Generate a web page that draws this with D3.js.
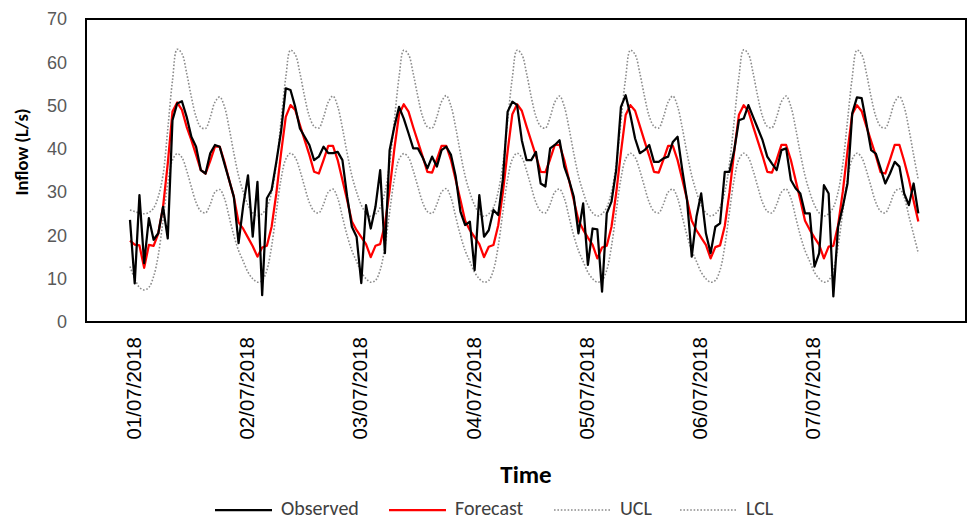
<!DOCTYPE html>
<html>
<head>
<meta charset="utf-8">
<script src="https://cdn.jsdelivr.net/npm/d3@7"></script>
<style>
  html, body { margin: 0; padding: 0; background: #fff; }
  svg { display: block; font-family: Calibri, Carlito, 'Open Sans', sans-serif; }
</style>
</head>
<body>
<svg width="968" height="520"></svg>
<script>
(function (d3) {
  'use strict';

  // hourly readings, first one at 01/07/2018 00:00
  const dayLabels = ['01/07/2018', '02/07/2018', '03/07/2018', '04/07/2018',
                     '05/07/2018', '06/07/2018', '07/07/2018'];

  const observed = [
    23.6, 8.9, 29.3, 13.6, 24.0, 19.0, 20.5, 26.6, 19.3, 46.6, 50.5, 51.0, 47.4, 42.8, 40.5, 35.1, 34.3, 39.0, 40.9, 40.5, 36.6, 32.8, 28.9, 18.2,
    27.0, 33.9, 19.7, 32.4, 6.2, 28.6, 30.5, 37.0, 44.0, 54.0, 53.6, 49.7, 44.7, 42.8, 40.9, 37.4, 38.2, 40.5, 39.0, 39.0, 39.3, 37.4, 29.0, 22.0,
    19.7, 9.0, 27.0, 21.6, 26.6, 35.1, 15.9, 39.7, 45.1, 49.7, 47.0, 43.6, 40.1, 40.1, 38.0, 35.5, 38.2, 35.9, 39.7, 40.5, 38.6, 33.6, 25.5, 22.4,
    23.2, 12.0, 29.3, 19.7, 21.2, 25.9, 24.7, 33.0, 48.6, 50.9, 50.1, 42.0, 37.4, 37.4, 39.3, 32.0, 31.3, 40.1, 40.9, 42.0, 35.9, 32.8, 29.0, 20.5,
    27.4, 13.2, 21.6, 21.4, 7.0, 25.1, 27.8, 35.1, 49.7, 52.4, 47.8, 42.4, 39.0, 39.7, 40.9, 37.0, 37.0, 37.8, 38.2, 41.6, 42.8, 35.1, 28.2, 15.1,
    24.3, 29.7, 20.5, 15.9, 22.0, 22.8, 34.7, 34.7, 39.7, 46.6, 47.0, 50.1, 47.4, 44.7, 42.0, 38.2, 36.6, 35.1, 39.7, 40.1, 32.8, 30.9, 29.7, 25.1,
    25.1, 12.8, 15.9, 31.6, 29.7, 5.9, 22.0, 26.6, 32.0, 48.2, 51.9, 51.7, 45.9, 39.7, 38.9, 35.5, 32.0, 34.3, 37.0, 35.9, 29.7, 27.0, 32.0, 25.1
  ];

  const forecast = [
    18.8, 17.9, 17.7, 12.5, 17.8, 17.6, 20.5, 26.6, 36.6, 48.6, 50.7, 49.0, 45.1, 42.0, 38.6, 35.1, 34.3, 37.2, 40.5, 40.5, 37.0, 32.8, 28.9, 23.0,
    21.5, 19.5, 17.5, 15.1, 17.2, 17.6, 22.0, 29.7, 39.0, 47.4, 50.1, 49.0, 45.5, 42.0, 38.6, 34.7, 34.3, 37.4, 40.7, 40.7, 37.4, 32.8, 28.2, 23.2,
    21.2, 19.6, 18.0, 15.0, 17.6, 18.0, 22.5, 30.5, 40.0, 48.0, 50.3, 48.6, 45.0, 41.6, 38.2, 34.7, 34.5, 37.5, 40.7, 40.7, 37.4, 32.8, 28.2, 23.4,
    21.2, 19.6, 18.0, 15.0, 17.4, 17.8, 22.3, 30.0, 39.5, 48.0, 50.3, 48.8, 45.2, 41.8, 38.4, 34.7, 34.6, 37.6, 40.9, 40.9, 37.4, 32.8, 28.2, 23.5,
    21.3, 19.5, 17.8, 14.7, 17.2, 17.6, 22.0, 29.8, 39.2, 47.8, 50.1, 48.8, 45.3, 41.8, 38.4, 34.7, 34.5, 37.5, 40.7, 40.7, 37.4, 32.9, 28.3, 23.4,
    21.2, 19.5, 17.8, 14.7, 17.3, 17.7, 22.2, 30.0, 39.4, 47.9, 50.1, 48.7, 45.2, 41.8, 38.4, 34.7, 34.5, 37.5, 40.9, 40.9, 37.4, 32.8, 28.2, 23.4,
    21.3, 19.5, 17.8, 14.7, 17.4, 17.6, 22.3, 30.1, 39.5, 48.0, 50.1, 48.7, 45.2, 41.8, 38.4, 34.6, 34.3, 37.5, 40.9, 40.9, 37.2, 33.0, 28.0, 23.2
  ];

  const ucl = [
    25.9, 25.5, 25.2, 25.0, 25.3, 26.3, 29.0, 34.0, 44.5, 55.8, 63.0, 62.0, 57.5, 52.0, 47.4, 45.0, 44.7, 47.3, 50.8, 52.0, 49.8, 44.8, 39.0, 33.8,
    30.0, 27.0, 25.2, 24.5, 25.0, 26.5, 30.0, 36.5, 46.5, 56.5, 62.8, 61.8, 57.5, 52.0, 47.5, 45.2, 44.8, 47.3, 50.8, 52.2, 49.8, 44.8, 39.0, 33.8,
    30.0, 27.0, 25.2, 24.4, 24.9, 26.4, 30.0, 36.6, 46.6, 56.6, 62.8, 61.8, 57.4, 52.0, 47.4, 45.1, 44.8, 47.4, 50.9, 52.3, 49.9, 44.9, 39.0, 33.7,
    29.9, 27.0, 25.1, 24.4, 25.0, 26.5, 30.1, 36.5, 46.5, 56.5, 62.8, 61.8, 57.5, 52.0, 47.5, 45.2, 44.8, 47.3, 50.8, 52.2, 49.8, 44.8, 39.0, 33.8,
    30.0, 27.0, 25.2, 24.5, 25.0, 26.5, 30.0, 36.5, 46.4, 56.4, 62.8, 61.8, 57.5, 52.1, 47.5, 45.2, 44.8, 47.3, 50.8, 52.2, 49.8, 44.8, 39.0, 33.8,
    30.0, 27.0, 25.2, 24.5, 25.0, 26.5, 30.0, 36.6, 46.6, 56.6, 62.9, 61.9, 57.5, 52.0, 47.5, 45.2, 44.9, 47.4, 50.9, 52.2, 49.8, 44.8, 39.0, 33.8,
    30.0, 27.0, 25.2, 24.5, 25.0, 26.5, 30.0, 36.5, 46.5, 56.5, 62.8, 61.8, 57.5, 52.0, 47.5, 45.2, 44.8, 47.3, 50.8, 52.1, 49.7, 44.6, 38.6, 32.8
  ];

  const lcl = [
    12.8, 10.0, 8.0, 7.4, 8.0, 10.5, 15.5, 23.5, 32.0, 37.4, 38.9, 38.0, 35.0, 31.2, 27.6, 25.6, 25.2, 27.2, 30.0, 30.6, 28.6, 24.3, 20.0, 16.5,
    14.0, 11.5, 10.0, 9.2, 9.6, 12.0, 17.5, 25.5, 33.0, 37.6, 39.0, 38.0, 35.0, 31.2, 27.6, 25.6, 25.2, 27.2, 30.0, 30.7, 28.6, 24.3, 20.0, 16.5,
    14.0, 11.5, 10.0, 9.2, 9.6, 12.0, 17.4, 25.4, 33.0, 37.6, 38.9, 38.0, 35.0, 31.2, 27.6, 25.5, 25.1, 27.2, 30.0, 30.8, 28.7, 24.3, 20.0, 16.5,
    14.0, 11.5, 10.0, 9.2, 9.6, 12.0, 17.5, 25.5, 33.0, 37.6, 39.0, 38.0, 35.0, 31.2, 27.6, 25.6, 25.2, 27.2, 30.0, 30.7, 28.6, 24.3, 20.0, 16.5,
    14.0, 11.5, 10.0, 9.2, 9.6, 12.0, 17.5, 25.5, 33.1, 37.7, 39.0, 38.0, 35.0, 31.2, 27.6, 25.6, 25.2, 27.2, 30.0, 30.7, 28.6, 24.3, 20.0, 16.5,
    14.0, 11.5, 10.0, 9.2, 9.6, 12.0, 17.5, 25.5, 33.0, 37.6, 39.0, 38.0, 35.0, 31.2, 27.6, 25.6, 25.2, 27.2, 30.0, 30.7, 28.6, 24.3, 20.0, 16.5,
    14.0, 11.5, 10.0, 9.2, 9.6, 12.0, 17.5, 25.5, 33.0, 37.6, 39.0, 38.0, 35.0, 31.2, 27.6, 25.6, 25.2, 27.2, 30.0, 30.8, 28.8, 24.5, 20.2, 15.9
  ];

  const yTicks = [0, 10, 20, 30, 40, 50, 60, 70];

  const svg = d3.select('svg');
  const plot = { left: 86, top: 19, right: 966, bottom: 322 };

  const parseDay = d3.utcParse('%d/%m/%Y');
  const dayTicks = dayLabels.map(parseDay);
  const hour = 3600 * 1000;
  const t0 = +dayTicks[0];
  const timeAt = i => new Date(t0 + i * hour);

  // the time axis runs a bit before the first and after the last reading
  const xScale = d3.scaleUtc()
    .domain([new Date(t0 - 9.32 * hour), new Date(t0 + 177.1 * hour)])
    .range([plot.left, plot.right]);

  const yScale = d3.scaleLinear()
    .domain([0, 70])
    .range([plot.bottom, plot.top]);

  const toPoints = values => values.map((v, i) => ({ t: timeAt(i), v }));

  const straight = d3.line()
    .x(d => xScale(d.t))
    .y(d => yScale(d.v));

  const smooth = d3.line()
    .x(d => xScale(d.t))
    .y(d => yScale(d.v))
    .curve(d3.curveCatmullRom.alpha(0.5));

  const series = [
    { name: 'Observed', values: observed, color: '#000000', width: 2.25, dash: null, gen: straight },
    { name: 'Forecast', values: forecast, color: '#ff0000', width: 2.25, dash: null, gen: straight },
    { name: 'UCL', values: ucl, color: '#8c8c8c', width: 1.6, dash: '1.6 1.8', gen: smooth },
    { name: 'LCL', values: lcl, color: '#8c8c8c', width: 1.6, dash: '1.6 1.8', gen: smooth }
  ];

  // y axis
  const yAxisG = svg.append('g')
    .attr('transform', `translate(${plot.left},0)`)
    .call(d3.axisLeft(yScale).tickValues(yTicks).tickSize(0).tickPadding(19));
  yAxisG.select('.domain').remove();
  yAxisG.selectAll('text')
    .attr('fill', '#595959')
    .style('font-size', '18px');

  // x axis, labels turned upright
  const xAxisG = svg.append('g')
    .attr('transform', `translate(0,${plot.bottom})`)
    .call(d3.axisBottom(xScale).tickValues(dayTicks)
      .tickFormat((d, i) => dayLabels[i]).tickSize(0));
  xAxisG.select('.domain').remove();
  xAxisG.selectAll('text')
    .attr('transform', 'rotate(-90)')
    .attr('text-anchor', 'end')
    .attr('x', -15)
    .attr('y', 3)
    .attr('dy', '0.35em')
    .attr('fill', '#000')
    .style('font-size', '20.5px');

  // lines, bands first
  svg.append('g')
    .selectAll('path')
    .data(series.slice().reverse())
    .enter().append('path')
      .attr('d', d => d.gen(toPoints(d.values)))
      .attr('fill', 'none')
      .attr('stroke', d => d.color)
      .attr('stroke-width', d => d.width)
      .attr('stroke-dasharray', d => d.dash)
      .attr('stroke-linejoin', 'round');

  // plot frame
  svg.append('rect')
    .attr('x', plot.left)
    .attr('y', plot.top)
    .attr('width', plot.right - plot.left)
    .attr('height', plot.bottom - plot.top)
    .attr('fill', 'none')
    .attr('stroke', '#000')
    .attr('stroke-width', 2);

  // axis titles
  svg.append('text')
    .attr('transform', 'translate(22,152) rotate(-90)')
    .attr('text-anchor', 'middle')
    .attr('dy', '0.35em')
    .style('font-size', '18.5px')
    .style('font-weight', 'bold')
    .text('Inflow (L/s)');

  svg.append('text')
    .attr('x', (plot.left + plot.right) / 2)
    .attr('y', 483)
    .attr('text-anchor', 'middle')
    .style('font-size', '25px')
    .style('font-weight', 'bold')
    .text('Time');

  // legend
  const legendX = [215, 389, 554, 680];
  const legendY = 510;
  const item = svg.append('g')
    .selectAll('g')
    .data(series)
    .enter().append('g')
      .attr('transform', (d, i) => `translate(${legendX[i]},${legendY})`);
  item.append('line')
    .attr('x1', 0).attr('x2', 57)
    .attr('stroke', d => d.color)
    .attr('stroke-width', d => d.width)
    .attr('stroke-dasharray', d => d.dash);
  item.append('text')
    .attr('x', 66)
    .attr('dy', '0.25em')
    .attr('fill', '#404040')
    .style('font-size', '20px')
    .text(d => d.name);

}(d3));
</script>
</body>
</html>
